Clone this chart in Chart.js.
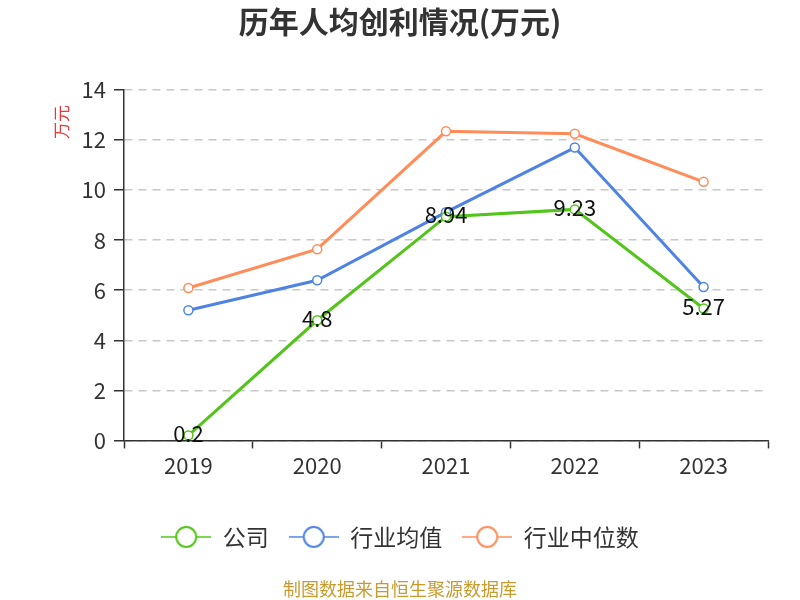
<!DOCTYPE html>
<html>
<head>
<meta charset="utf-8">
<script src="https://cdn.jsdelivr.net/npm/chart.js@4.4.0/dist/chart.umd.min.js"></script>
<style>
  html, body { margin: 0; padding: 0; background: #fff; }
  #wrap { width: 800px; height: 600px; }
</style>
</head>
<body>
<div id="wrap"><canvas id="myChart" width="800" height="600"></canvas></div>
<script>
const years = ['2019', '2020', '2021', '2022', '2023'];
const company = [0.2, 4.8, 8.94, 9.23, 5.27];
const industryAvg = [5.2, 6.4, 9.12, 11.7, 6.13];
const industryMedian = [6.09, 7.64, 12.35, 12.25, 10.33];
const yTicks = [0, 2, 4, 6, 8, 10, 12, 14];

const GREEN = '#52c41a';
const BLUE = '#4f83e3';
const ORANGE = '#ff8c59';
const FONT = "'Noto Sans CJK SC', 'Noto Sans', sans-serif";

// legend symbol: short line with a hollow circle
function legendIcon(color) {
  const c = document.createElement('canvas');
  c.width = 50;
  c.height = 24;
  const g = c.getContext('2d');
  g.strokeStyle = color;
  g.lineWidth = 1.5;
  g.beginPath();
  g.moveTo(0, 12); g.lineTo(50, 12);
  g.stroke();
  g.lineWidth = 2;
  g.beginPath();
  g.arc(25, 12, 10, 0, Math.PI * 2);
  g.fillStyle = '#fff';
  g.fill();
  g.stroke();
  return c;
}
const icons = [legendIcon(GREEN), legendIcon(BLUE), legendIcon(ORANGE)];

// value labels on the company line
const valueLabels = {
  id: 'valueLabels',
  afterDatasetsDraw(chart) {
    const ctx = chart.ctx;
    const meta = chart.getDatasetMeta(0);
    ctx.save();
    ctx.font = '22px ' + FONT;
    ctx.fillStyle = '#111';
    ctx.textAlign = 'center';
    ctx.textBaseline = 'middle';
    meta.data.forEach(function (pt, i) {
      ctx.fillText(String(company[i]), pt.x, pt.y - 2);
    });
    ctx.restore();
  }
};

// rotated unit text at the top left
const unitTitle = {
  id: 'unitTitle',
  afterDraw(chart) {
    const ctx = chart.ctx;
    ctx.save();
    ctx.translate(62, 122);
    ctx.rotate(-Math.PI / 2);
    ctx.font = '17px ' + FONT;
    ctx.fillStyle = '#e8383a';
    ctx.textAlign = 'center';
    ctx.textBaseline = 'middle';
    ctx.fillText('万元', 0, 0);
    ctx.restore();
  }
};

function lineSet(label, data, color) {
  return {
    label: label,
    data: data,
    borderColor: color,
    backgroundColor: '#fff',
    borderWidth: 3,
    pointRadius: 4.5,
    pointBorderWidth: 1.5,
    pointBackgroundColor: '#fff',
    pointBorderColor: color,
    tension: 0
  };
}

const ctx = document.getElementById('myChart');
const myChart = new Chart(ctx, {
  type: 'line',
  data: {
    labels: years,
    datasets: [
      lineSet('公司', company, GREEN),
      lineSet('行业均值', industryAvg, BLUE),
      lineSet('行业中位数', industryMedian, ORANGE)
    ]
  },
  options: {
    responsive: false,
    animation: false,
    layout: {
      padding: 0
    },
    scales: {
      x: {
        offset: true,
        grid: {
          offset: true,
          drawOnChartArea: false,
          tickLength: 8,
          tickColor: '#333',
          tickWidth: 1.5
        },
        border: { color: '#333', width: 1.5 },
        ticks: {
          color: '#333',
          padding: 4,
          font: { family: FONT, size: 22 }
        },
        afterFit: function (scale) { scale.height = 65; }
      },
      y: {
        min: 0,
        max: 14,
        afterBuildTicks: function (scale) {
          scale.ticks = yTicks.map(function (v) { return { value: v }; });
        },
        grid: {
          color: '#c8c8c8',
          lineWidth: 1.5,
          tickLength: 10,
          tickColor: '#333',
          tickWidth: 1.5,
          tickBorderDash: []
        },
        border: { color: '#333', width: 1.5, dash: [8, 6] },
        ticks: {
          color: '#333',
          padding: 8,
          font: { family: FONT, size: 22 }
        },
        afterFit: function (scale) { scale.width = 124; }
      },
      // empty right-hand space so the chart area ends at 768
      yRight: {
        position: 'right',
        display: true,
        grid: { display: false },
        border: { display: false },
        ticks: { display: false },
        afterFit: function (scale) { scale.width = 32; }
      }
    },
    plugins: {
      title: {
        display: true,
        text: '历年人均创利情况(万元)',
        color: '#333',
        font: { family: FONT, size: 30, weight: 'bold' },
        padding: { top: 4, bottom: 50 }
      },
      subtitle: {
        display: true,
        position: 'bottom',
        text: '制图数据来自恒生聚源数据库',
        color: '#c99a2e',
        font: { family: FONT, size: 18 },
        padding: { top: 20, bottom: 0 }
      },
      legend: {
        position: 'bottom',
        labels: {
          usePointStyle: true,
          pointStyleWidth: 50,
          padding: 20,
          color: '#333',
          font: { family: FONT, size: 23 },
          generateLabels: function (chart) {
            const items = Chart.defaults.plugins.legend.labels.generateLabels(chart);
            items.forEach(function (it, i) { it.pointStyle = icons[i]; });
            return items;
          }
        }
      },
      tooltip: { enabled: false }
    }
  },
  plugins: [valueLabels, unitTitle]
});
</script>
</body>
</html>
